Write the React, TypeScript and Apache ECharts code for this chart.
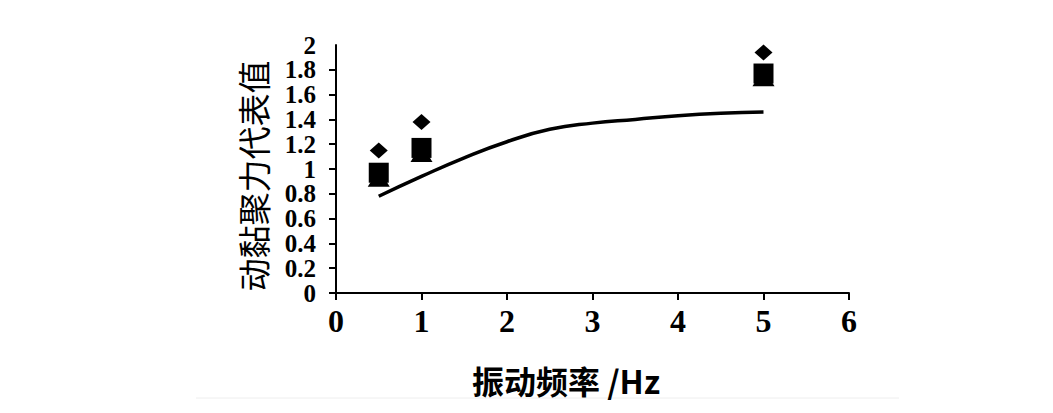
import React, { useEffect, useRef } from "react";
import * as echarts from "echarts";

const xTicks = [0, 1, 2, 3, 4, 5, 6];
const yTicks = [0, 0.2, 0.4, 0.6, 0.8, 1, 1.2, 1.4, 1.6, 1.8, 2];

const freqPoints = [0.5, 1, 5];
const diamondValues = [1.15, 1.38, 1.94];
const squareValues = [0.97, 1.17, 1.77];
const triangleValues = [0.93, 1.13, 1.74];

const curveX = [0.5, 1, 1.5, 2, 2.5, 3, 3.5, 4, 4.5, 5];
const curveY = [0.78, 0.94, 1.09, 1.22, 1.32, 1.37, 1.4, 1.43, 1.45, 1.46];

const xName = "振动频率 /Hz";
const yName = "动黏聚力代表值";

const serif = "'Liberation Serif', 'DejaVu Serif', serif";
const cjk = "'Noto Sans CJK SC', sans-serif";

const yLabelText = (v: number) => {
  const t = yTicks.find((y) => Math.abs(y - v) < 1e-6);
  return t === undefined ? "" : String(Number(t.toFixed(1)));
};

export default function App() {
  const ref = useRef<HTMLDivElement>(null);
  useEffect(() => {
    if (!ref.current) return;
    const chart = echarts.init(ref.current, undefined, { renderer: "svg" });
    const pair = (xs: number[], ys: number[]) => xs.map((x, i) => [x, ys[i]]);
    const yLabelBase = {
      color: "#000",
      fontFamily: serif,
      fontWeight: "bold",
      fontSize: 25,
      lineHeight: 20,
      padding: 0,
      margin: 20,
      hideOverlap: false,
    };
    const yMax = yTicks[yTicks.length - 1];
    chart.setOption({
      animation: false,
      backgroundColor: "#ffffff",
      grid: { left: 336, top: 45, width: 513, height: 248, containLabel: false },
      xAxis: {
        type: "value",
        min: 0,
        max: 6,
        interval: 1,
        axisLine: { lineStyle: { color: "#000", width: 2 } },
        axisTick: { show: true, inside: false, length: 7, lineStyle: { color: "#000", width: 2 } },
        splitLine: { show: false },
        axisLabel: {
          color: "#000",
          fontFamily: serif,
          fontWeight: "bold",
          fontSize: 32,
          margin: 12,
          showMinLabel: true,
          showMaxLabel: true,
          formatter: (v: number) => (xTicks.includes(v) ? String(v) : ""),
        },
      },
      yAxis: [
        {
          type: "value",
          position: "left",
          min: 0,
          max: 2,
          interval: 0.2,
          axisLine: { show: true, lineStyle: { color: "#000", width: 2 } },
          axisTick: { show: true, inside: false, length: 7, lineStyle: { color: "#000", width: 2 } },
          splitLine: { show: false },
          axisLabel: {
            ...yLabelBase,
            showMinLabel: true,
            showMaxLabel: false,
            formatter: yLabelText,
          },
        },
        {
          type: "value",
          position: "left",
          offset: 0,
          min: 0,
          max: 2,
          interval: 0.2,
          axisLine: { show: false },
          axisTick: { show: false },
          splitLine: { show: false },
          axisLabel: {
            ...yLabelBase,
            showMinLabel: false,
            showMaxLabel: true,
            formatter: (v: number) => (Math.abs(v - yMax) < 1e-6 ? yLabelText(v) : ""),
          },
        },
      ],
      graphic: [
        {
          type: "line",
          shape: { x1: 196, y1: 398, x2: 899, y2: 398 },
          style: { stroke: "#eeeeee", lineWidth: 1 },
          silent: true,
        },
        {
          type: "text",
          x: 566,
          y: 380,
          style: {
            text: xName,
            fontFamily: cjk,
            fontSize: 32,
            fontWeight: "bold",
            fill: "#000",
            align: "center",
            verticalAlign: "middle",
          },
        },
        {
          type: "text",
          x: 253,
          y: 176,
          rotation: Math.PI / 2,
          style: {
            text: yName,
            fontFamily: cjk,
            fontSize: 33,
            fill: "#000",
            align: "center",
            verticalAlign: "middle",
          },
        },
      ],
      series: [
        {
          type: "line",
          yAxisIndex: 0,
          data: pair(curveX, curveY),
          smooth: true,
          symbol: "none",
          lineStyle: { color: "#000", width: 3.5 },
          z: 2,
        },
        {
          type: "scatter",
          yAxisIndex: 0,
          data: pair(freqPoints, triangleValues),
          symbol: "triangle",
          symbolSize: [22, 18],
          itemStyle: { color: "#000", opacity: 1 },
          z: 3,
        },
        {
          type: "scatter",
          yAxisIndex: 0,
          data: pair(freqPoints, squareValues),
          symbol: "rect",
          symbolSize: [20, 20],
          itemStyle: { color: "#000", opacity: 1 },
          z: 4,
        },
        {
          type: "scatter",
          yAxisIndex: 0,
          data: pair(freqPoints, diamondValues),
          symbol: "diamond",
          symbolSize: [18, 16],
          itemStyle: { color: "#000", opacity: 1 },
          z: 5,
        },
      ],
    });
    return () => chart.dispose();
  }, []);
  return (
    <div
      ref={ref}
      style={{ position: "fixed", left: 0, top: 0, width: 1053, height: 413, background: "#fff" }}
    />
  );
}
